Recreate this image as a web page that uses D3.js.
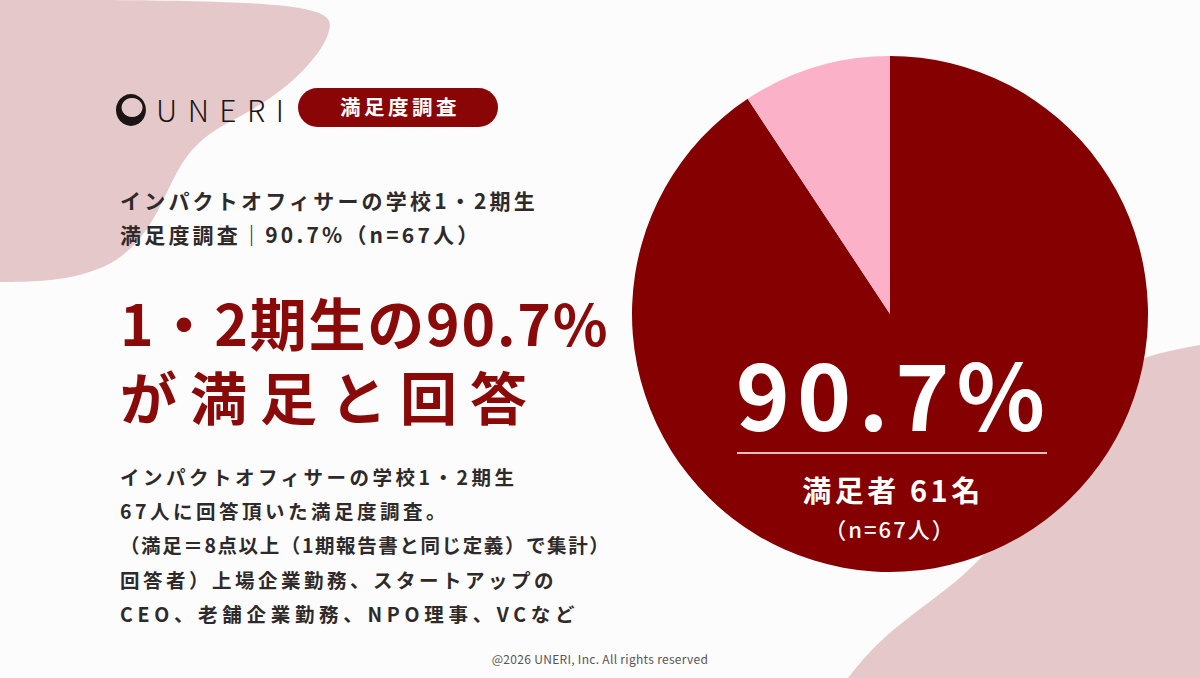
<!DOCTYPE html>
<html>
<head>
<meta charset="utf-8">
<script src="https://d3js.org/d3.v7.min.js"></script>
<title>満足度調査</title>
<style>
  body { margin: 0; background: #fdfcfc; }
  svg text { font-family: "Noto Sans CJK JP", "Noto Sans", sans-serif; }
</style>
</head>
<body>
<div id="chart"></div>
<script>
// data
var categories = ["満足", "その他"];
var shares = [90.7, 9.3];
var sliceColors = ["#850000", "#fbb1c7"];
var satisfiedCount = 61;
var totalCount = 67;

var badgeLabel = "満足度調査";
var subtitleLines = ["インパクトオフィサーの学校1・2期生", "満足度調査｜90.7%（n=67人）"];
var headlineLines = ["1・2期生の90.7%", "が満足と回答"];
var bodyLines = [
  "インパクトオフィサーの学校1・2期生",
  "67人に回答頂いた満足度調査。",
  "（満足＝8点以上（1期報告書と同じ定義）で集計）",
  "回答者）上場企業勤務、スタートアップの",
  "CEO、老舗企業勤務、NPO理事、VCなど"
];

var width = 1200, height = 678;

var svg = d3.select("#chart").append("svg")
  .attr("width", width)
  .attr("height", height);

svg.append("rect").attr("width", width).attr("height", height).attr("fill", "#fdfcfc");

// background blobs
var blob = d3.line().curve(d3.curveBasis);
svg.append("path")
  .attr("d", blob([[0,0],[330,0],[332,30],[318,55],[290,85],[250,112],[212,130],[185,155],[168,190],[150,228],[120,262],[75,278],[30,282],[0,282]]) + "L0,0Z")
  .attr("fill", "#e4c8ca");

svg.append("path")
  .attr("d", blob([[1200,345],[1160,352],[1115,368],[1075,410],[1030,480],[990,555],[935,598],[885,635],[858,665],[848,678]]) + "L1200,678Z")
  .attr("fill", "#e4c8ca");

// logo
var logo = svg.append("g").attr("transform", "translate(131,110)");
logo.append("path")
  .attr("d", "M0,-16A15,16 0 1,1 -0.1,-16Z M1,-12A10.5,9.5 0 1,0 1.1,-12Z")
  .attr("fill-rule", "evenodd")
  .attr("fill", "#1a1414");
svg.append("text")
  .attr("x", 156).attr("y", 122)
  .attr("font-size", 30).attr("font-weight", 300)
  .attr("letter-spacing", 10.5)
  .attr("fill", "#1a1414")
  .text("UNERI");

// badge
svg.append("rect")
  .attr("x", 298).attr("y", 88).attr("width", 200).attr("height", 39)
  .attr("rx", 19.5).attr("fill", "#8a0606");
svg.append("text")
  .attr("x", 400).attr("y", 115)
  .attr("text-anchor", "middle")
  .attr("font-size", 20.5).attr("font-weight", 700)
  .attr("letter-spacing", 3.5)
  .attr("fill", "#ffffff")
  .text(badgeLabel);

// subtitle
svg.selectAll(".sub").data(subtitleLines).enter().append("text")
  .attr("class", "sub")
  .attr("x", 120)
  .attr("y", function(d, i){ return 209 + i * 34; })
  .attr("font-size", 21).attr("font-weight", 700)
  .attr("letter-spacing", 3.2)
  .attr("fill", "#2f2a2a")
  .text(function(d){ return d; });

// headline
var headSpacing = [1.8, 13];
svg.selectAll(".head").data(headlineLines).enter().append("text")
  .attr("class", "head")
  .attr("x", 120)
  .attr("y", function(d, i){ return 346 + i * 74; })
  .attr("font-size", 57).attr("font-weight", 700)
  .attr("letter-spacing", function(d, i){ return headSpacing[i]; })
  .attr("fill", "#8a0a0a")
  .text(function(d){ return d; });

// body
var bodySpacing = [3.5, 3.5, 1.6, 3.5, 4.7];
svg.selectAll(".body").data(bodyLines).enter().append("text")
  .attr("class", "body")
  .attr("x", 120)
  .attr("y", function(d, i){ return 485 + i * 34.2; })
  .attr("font-size", 19.5).attr("font-weight", 700)
  .attr("letter-spacing", function(d, i){ return bodySpacing[i]; })
  .attr("fill", "#2f2a2a")
  .text(function(d){ return d; });

// pie
var cx = 890, cy = 314, radius = 258;
var pie = d3.pie().sort(null).value(function(d){ return d; });
var arc = d3.arc().innerRadius(0).outerRadius(radius);

var g = svg.append("g").attr("transform", "translate(" + cx + "," + cy + ")");
g.selectAll("path.slice")
  .data(pie(shares)).enter().append("path")
  .attr("class", "slice")
  .attr("d", arc)
  .attr("fill", function(d, i){ return sliceColors[i]; })
  .append("title").text(function(d, i){ return categories[i] + " " + d.value + "%"; });

// labels on pie
g.append("text")
  .attr("x", 4).attr("y", 117)
  .attr("text-anchor", "middle")
  .attr("font-size", 92).attr("font-weight", 700)
  .attr("letter-spacing", 7)
  .attr("fill", "#ffffff")
  .text(shares[0] + "%");
g.append("line")
  .attr("x1", -153).attr("x2", 157)
  .attr("y1", 139).attr("y2", 139)
  .attr("stroke", "#ffffff").attr("stroke-width", 1.5);
g.append("text")
  .attr("x", 3).attr("y", 188)
  .attr("text-anchor", "middle")
  .attr("font-size", 29).attr("font-weight", 700)
  .attr("letter-spacing", 3.5)
  .attr("fill", "#ffffff")
  .text("満足者 " + satisfiedCount + "名");
g.append("text")
  .attr("x", 0).attr("y", 224)
  .attr("text-anchor", "middle")
  .attr("font-size", 22).attr("font-weight", 500)
  .attr("letter-spacing", 2)
  .attr("fill", "#ffffff")
  .text("（n=" + totalCount + "人）");

// footer
svg.append("text")
  .attr("x", 600).attr("y", 664)
  .attr("text-anchor", "middle")
  .attr("font-size", 12)
  .attr("letter-spacing", 0.3)
  .attr("fill", "#555555")
  .text("@2026 UNERI, Inc. All rights reserved");
</script>
</body>
</html>
